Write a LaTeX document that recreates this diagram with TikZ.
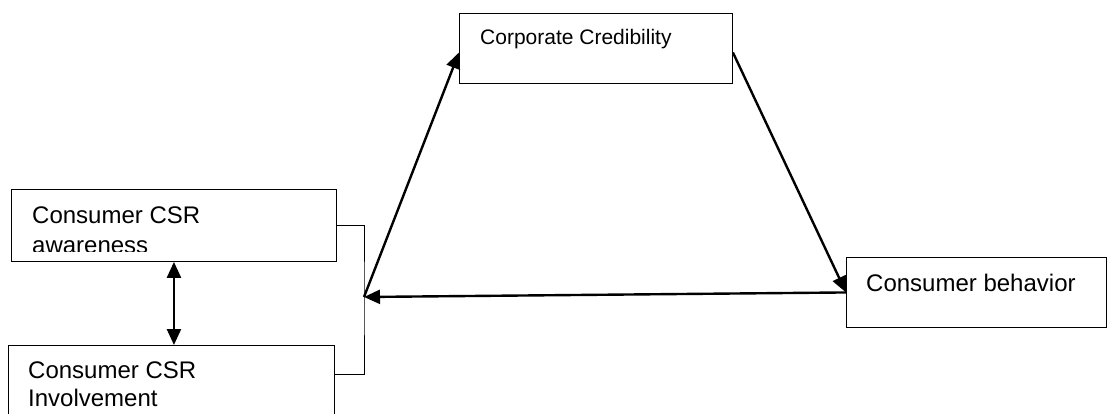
\documentclass[tikz,border=0pt]{standalone}
\usepackage{fontspec}
\setmainfont{Liberation Sans}
\usetikzlibrary{arrows.meta}

\begin{document}
\begin{tikzpicture}[x=1pt, y=-1pt,
    box/.style={draw, line width=0.9pt, inner sep=0pt, anchor=north west},
    txt/.style={inner sep=0pt, anchor=base west, font=\fontsize{24}{30}\selectfont},
    arr/.style={line width=2.4pt, -{Triangle[length=16pt, width=14pt]}}]
    \clip (0,0) rectangle (1108,414);
    \node(cred)[box, minimum width=273pt, minimum height=70pt] at (459,13) {};
    \node(beh)[box, minimum width=260pt, minimum height=70pt] at (846,257) {};
    \node(aware)[box, minimum width=325pt, minimum height=72pt] at (11,189) {};
    \node(inv)[box, minimum width=326pt, minimum height=100pt] at (8,345) {};
    \node(credtxt)[txt, font=\fontsize{21}{26}\selectfont] at (480,45) {Corporate Credibility};
    \node(behtxt)[txt] at (866,291) {Consumer behavior};
    \node(awaretxt)[txt] at (32,223) {Consumer CSR};
    \begin{scope}
        \clip (0,0) rectangle (340,251);
        \node(awaretxtb)[txt] at (32,253) {awareness};
    \end{scope}
    \node(invtxt)[txt] at (28,378) {Consumer CSR};
    \node(invtxtb)[txt] at (28,406) {Involvement};
    \coordinate(jn) at (364,297);
    \coordinate(invend) at (334,374);
    \draw[line width=0.9pt] (aware.east) -| (jn) |- (invend);
    \draw[line width=2.4pt, {Triangle[length=16pt, width=14pt]}-{Triangle[length=16pt, width=14pt]}] (aware.south) -- (aware.south |- inv.north);
    \draw[arr] ([yshift=-4pt]cred.east) -- (beh.west);
    \draw[arr] (beh.west) -- (jn);
    \draw[arr] (jn) -- ([yshift=-4pt]cred.west);
\end{tikzpicture}
\end{document}
